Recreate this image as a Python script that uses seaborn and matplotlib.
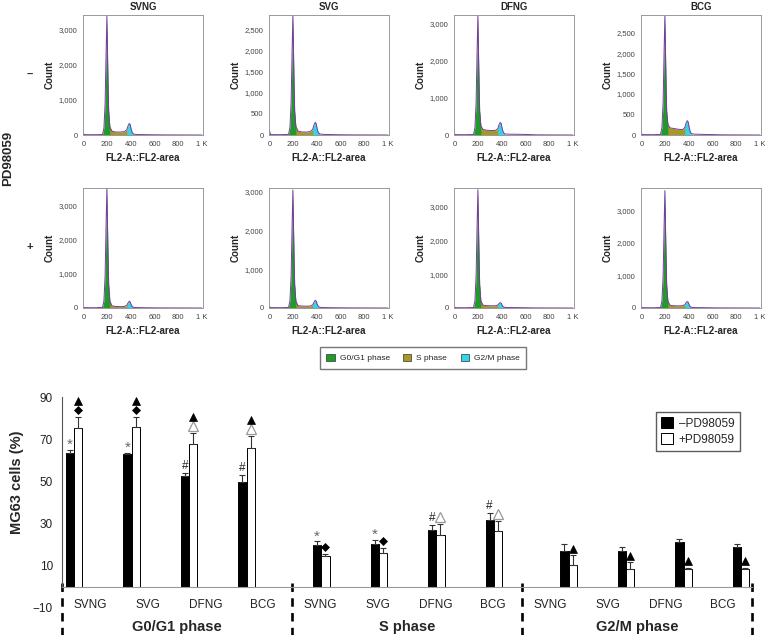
import numpy as np
import pandas as pd
import matplotlib
matplotlib.use("Agg")
import matplotlib.pyplot as plt
import seaborn as sns
from matplotlib.patches import Patch
from matplotlib.ticker import AutoMinorLocator, FuncFormatter, MultipleLocator

sns.set_style("white")
plt.rcParams['font.family'] = ['Liberation Sans', 'DejaVu Sans']

# ---- flow cytometry histograms (FL2-area channel vs count) ----
channels = [0, 8, 100, 160, 172, 182, 190, 197, 204, 212, 222, 240, 270, 310,
            345, 365, 376, 386, 394, 402, 412, 425, 450, 520, 600, 700, 1000]

svng_minus = [40, 10, 8, 15, 200, 900, 2300, 3400, 2000, 700, 230, 110, 85, 85,
              95, 150, 260, 330, 300, 170, 60, 25, 15, 10, 6, 3, 0]
svg_minus = [90, 10, 8, 15, 170, 770, 1930, 2840, 1680, 570, 200, 95, 72, 70,
             80, 140, 240, 300, 270, 150, 55, 25, 15, 10, 6, 3, 0]
dfng_minus = [30, 10, 8, 15, 195, 875, 2200, 3240, 1910, 650, 250, 150, 130, 120,
              125, 170, 280, 340, 310, 180, 70, 30, 22, 20, 15, 4, 0]
bcg_minus = [30, 10, 8, 15, 175, 790, 1990, 2930, 1730, 590, 260, 175, 160, 140,
             130, 180, 290, 350, 320, 190, 70, 30, 20, 15, 10, 4, 0]
svng_plus = [30, 10, 8, 15, 210, 950, 2400, 3530, 2080, 700, 200, 65, 45, 40,
             45, 80, 150, 200, 180, 100, 40, 18, 12, 8, 5, 3, 0]
svg_plus = [40, 10, 8, 15, 180, 820, 2070, 3050, 1800, 610, 180, 62, 50, 48,
            50, 85, 150, 200, 180, 100, 40, 18, 12, 8, 5, 3, 0]
dfng_plus = [30, 10, 8, 15, 210, 945, 2380, 3500, 2070, 700, 210, 85, 70, 65,
             65, 90, 130, 160, 145, 85, 35, 18, 14, 12, 8, 3, 0]
bcg_plus = [30, 10, 8, 15, 215, 970, 2450, 3600, 2120, 720, 215, 85, 70, 65,
            70, 100, 160, 200, 180, 100, 40, 18, 12, 10, 6, 3, 0]

samples = ['SVNG', 'SVG', 'DFNG', 'BCG']
hist_rows = [[svng_minus, svg_minus, dfng_minus, bcg_minus],
             [svng_plus, svg_plus, dfng_plus, bcg_plus]]
hist_ymax = [[3430, 2840, 3240, 2930], [3530, 3100, 3550, 3680]]
hist_ystep = [[1000, 500, 1000, 500], [1000, 1000, 1000, 1000]]
phase_names = ['G0/G1 phase', 'S phase', 'G2/M phase']
phase_colors = ['#1f9b2a', '#a59b24', '#33d6e8']

# ---- bar chart (% of MG63 cells per phase) ----
groups = ['SVNG', 'SVG', 'DFNG', 'BCG']
treatments = ['\u2013PD98059', '+PD98059']
minus_mean = [63.3, 63.2, 52.5, 49.7, 19.7, 20.3, 26.8, 31.7, 17.2, 16.9, 21.2, 19.1]
minus_err = [1.8, 0.4, 1.4, 3.4, 1.9, 1.8, 2.7, 3.3, 3.2, 2.2, 1.6, 1.2]
plus_mean = [75.5, 76.0, 68.0, 65.7, 14.5, 16.3, 24.8, 26.3, 10.5, 8.3, 8.3, 8.6]
plus_err = [5.2, 4.5, 5.0, 5.8, 1.2, 2.2, 5.0, 5.2, 4.5, 3.4, 0.9, 0.3]
minus_sig = ['*', '*', '#', '#', '*', '*', '#', '#', '', '', '', '']
# d = filled diamond, T = filled triangle, t = open triangle (bottom to top)
plus_sig = ['dT', 'dT', 'tT', 'tT', 'd', 'd', 't', 't', 'T', 'T', 'T', 'T']

W, H = 765, 635
fig = plt.figure(figsize=(W / 100, H / 100), dpi=100)

col_left = [83, 269, 454, 641]
row_top = [15, 188]
pw, ph = 120, 120

line_col = '#7a3aa0'
for r in range(2):
    for c in range(4):
        ax = fig.add_axes([col_left[c] / W, 1 - (row_top[r] + ph) / H, pw / W, ph / H])
        x = np.array(channels, dtype=float)
        y = np.array(hist_rows[r][c], dtype=float)
        g1 = (x >= 160) & (x <= 222)
        sp = (x >= 212) & (x <= 376)
        g2 = (x >= 365) & (x <= 425)
        ax.fill_between(x, 0, y, where=sp, color=phase_colors[1], lw=0)
        ax.fill_between(x, 0, y, where=g1, color=phase_colors[0], lw=0)
        ax.fill_between(x, 0, y, where=g2, color=phase_colors[2], lw=0)
        sns.lineplot(x=x, y=y, color=line_col, lw=0.7, ax=ax)
        ax.set_xlim(-5, 1010)
        ax.set_ylim(0, hist_ymax[r][c])
        ax.xaxis.set_major_locator(MultipleLocator(200))
        ax.yaxis.set_major_locator(MultipleLocator(hist_ystep[r][c]))
        ax.xaxis.set_minor_locator(AutoMinorLocator(4))
        ax.yaxis.set_minor_locator(AutoMinorLocator(5))
        ax.xaxis.set_major_formatter(FuncFormatter(lambda v, p: '1 K' if v == 1000 else f'{int(v)}'))
        ax.yaxis.set_major_formatter(FuncFormatter(lambda v, p: f'{int(v):,}'))
        ax.tick_params(which='major', length=2.5, width=0.6, labelsize=5.5,
                       colors='#444', pad=1.5, direction='out')
        ax.tick_params(which='minor', length=1.3, width=0.4, colors='#666', direction='out')
        for s in ax.spines.values():
            s.set_color('#999')
            s.set_linewidth(0.7)
        ax.set_xlabel('FL2-A::FL2-area', fontsize=7, fontweight='bold', labelpad=4)
        ax.set_ylabel('Count', fontsize=7, fontweight='bold', labelpad=3)
        if r == 0:
            ax.set_title(samples[c], fontsize=7, fontweight='bold', pad=3.5)

fig.text(8 / W, 1 - 158 / H, 'PD98059', rotation=90, fontsize=9.5, fontweight='bold',
         ha='center', va='center')
fig.text(30 / W, 1 - 75 / H, '\u2013', fontsize=8, fontweight='bold', ha='center', va='center')
fig.text(30 / W, 1 - 247 / H, '+', fontsize=8, fontweight='bold', ha='center', va='center')

phase_handles = [Patch(facecolor=col, edgecolor='#333', lw=0.5) for col in phase_colors]
fig.legend(phase_handles, phase_names, ncol=3, loc='center',
           bbox_to_anchor=(423 / W, 1 - 358 / H), fontsize=6, frameon=True,
           fancybox=False, edgecolor='#555', handlelength=1.0, handleheight=1.0,
           columnspacing=1.6, handletextpad=0.6, borderpad=0.8)

# ---- bar chart ----
axb = fig.add_axes([62 / W, 1 - 608 / H, 690 / W, 215 / H])
bar_shift = [0.21, 0.51, 0.81]
bar_width = 0.287
bar_pos = [4 * g + i + bar_shift[g] for g in range(3) for i in range(4)]

bar_df = pd.DataFrame({
    'pos': bar_pos * 2,
    'value': minus_mean + plus_mean,
    'treat': [treatments[0]] * 12 + [treatments[1]] * 12,
})
sns.barplot(data=bar_df, x='pos', y='value', hue='treat', hue_order=treatments,
            native_scale=True, width=bar_width,
            palette={treatments[0]: 'black', treatments[1]: 'white'},
            edgecolor='black', linewidth=0.7, errorbar=None, legend=False, ax=axb)

off = bar_width / 4
xm = np.array(bar_pos) - off
xp = np.array(bar_pos) + off
axb.errorbar(xm, minus_mean, yerr=[np.zeros(12), minus_err], fmt='none',
             ecolor='#333', elinewidth=0.8, capsize=2.2, capthick=0.8)
axb.errorbar(xp, plus_mean, yerr=[np.zeros(12), plus_err], fmt='none',
             ecolor='#333', elinewidth=0.8, capsize=2.2, capthick=0.8)

marker_style = {
    'T': dict(marker='^', ms=6.2, mfc='black', mec='black', mew=0.5),
    'd': dict(marker='D', ms=4.0, mfc='black', mec='black', mew=0.5),
    't': dict(marker='^', ms=6.8, mfc='white', mec='#999', mew=0.9),
}
for k in range(12):
    top_m = minus_mean[k] + minus_err[k]
    if minus_sig[k] == '*':
        axb.text(xm[k], top_m + 2.4, '*', ha='center', va='center', fontsize=11, color='#666')
    elif minus_sig[k] == '#':
        axb.text(xm[k], top_m + 3.4, '#', ha='center', va='center', fontsize=8.5, color='#222')
    top_p = plus_mean[k] + plus_err[k]
    for j, sym in enumerate(plus_sig[k]):
        axb.plot(xp[k], top_p + 3.2 + 4.5 * j, ls='none', clip_on=False, **marker_style[sym])

axb.set_xlim(0, 12)
axb.set_ylim(-10, 92)
axb.set_yticks([-10, 10, 30, 50, 70, 90])
axb.set_xticks([i + 0.5 for i in range(12)])
axb.set_xticklabels(groups * 3)
axb.set_xticks([1, 2, 3, 5, 6, 7, 9, 10, 11], minor=True)
axb.tick_params(axis='x', which='major', length=0, pad=9, labelsize=8.5, labelcolor='#222')
axb.tick_params(axis='x', which='minor', length=4, width=0.7, color='#999', direction='out')
axb.tick_params(axis='y', length=3, width=0.7, color='#555', labelsize=8.5, labelcolor='#222')
axb.set_xlabel('')
axb.set_ylabel('')
axb.spines['top'].set_visible(False)
axb.spines['right'].set_visible(False)
axb.spines['bottom'].set_position(('data', 0))
axb.spines['bottom'].set_color('#999')
axb.spines['bottom'].set_linewidth(0.8)
axb.spines['left'].set_bounds(0, 90)
axb.spines['left'].set_color('#555')
axb.spines['left'].set_linewidth(0.8)

for xs in [0, 4, 8, 12]:
    axb.plot([xs, xs], [2, -23], color='black', lw=1.9, dashes=(3.2, 2.4),
             clip_on=False, solid_capstyle='butt')
for g, name in enumerate(phase_names):
    axb.text(4 * g + 2, -18.8, name, ha='center', va='center', fontsize=10.5,
             fontweight='bold')

fig.text(17 / W, 1 - 482 / H, 'MG63 cells (%)', rotation=90, fontsize=10.5,
         fontweight='bold', ha='center', va='center')

bar_handles = [Patch(facecolor='black', edgecolor='black', lw=0.7),
               Patch(facecolor='white', edgecolor='black', lw=0.7)]
axb.legend(bar_handles, treatments, loc='upper right',
           bbox_to_anchor=(740 / W, 1 - 412 / H), bbox_transform=fig.transFigure,
           fontsize=8.5, frameon=True, fancybox=False, edgecolor='#333',
           handlelength=1.0, handleheight=1.0, borderpad=0.45, labelspacing=0.3,
           handletextpad=0.5, borderaxespad=0)

fig.savefig('out.png', dpi=100)
